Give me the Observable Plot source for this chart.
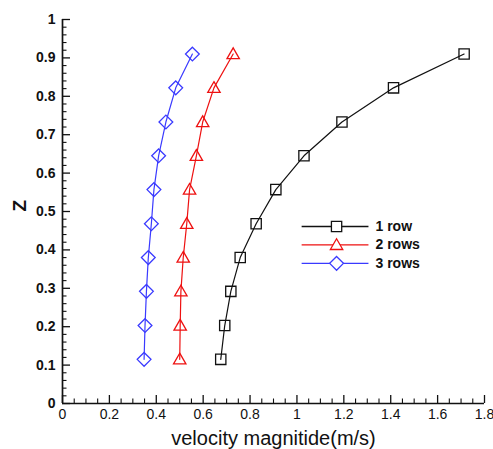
<!DOCTYPE html>
<html><head><meta charset="utf-8">
<script src="https://cdn.jsdelivr.net/npm/d3@7"></script>
<script src="https://cdn.jsdelivr.net/npm/@observablehq/plot@0.6"></script>
<style>html,body{margin:0;padding:0;background:#fff} svg{display:block}</style>
</head><body><div id="chart"></div>
<script>
// ---- data ----
const zLevels = [0.115, 0.203, 0.292, 0.38, 0.468, 0.557, 0.645, 0.733, 0.822, 0.91];
const row1 = [0.675, 0.692, 0.718, 0.758, 0.826, 0.91, 1.03, 1.192, 1.412, 1.713];
const row2 = [0.50, 0.502, 0.505, 0.515, 0.53, 0.542, 0.571, 0.598, 0.646, 0.728];
const row3 = [0.348, 0.352, 0.358, 0.366, 0.379, 0.39, 0.41, 0.441, 0.483, 0.554];
const seriesNames = ["1 row", "2 rows", "3 rows"];
const xTicks = [0, 0.2, 0.4, 0.6, 0.8, 1, 1.2, 1.4, 1.6, 1.8];
const yTicks = [0, 0.1, 0.2, 0.3, 0.4, 0.5, 0.6, 0.7, 0.8, 0.9, 1];
const xMinor = d3.range(0, 37).map(i => i * 0.05).filter((d, i) => i % 4 !== 0);
const yMinor = d3.range(0, 51).map(i => i * 0.02).filter((d, i) => i % 5 !== 0);

// ---- styles ----
const styles = [
  {stroke: "#111", symbol: "square", r: 5.8, dy: 0},
  {stroke: "#ee1111", symbol: "triangle", r: 4.6, dy: 1},
  {stroke: "#3a3aff", symbol: "diamond2", r: 6.2, dy: 0}
];
const seriesVals = [row1, row2, row3];
const series = seriesNames.map((name, k) => ({
  name, style: styles[k],
  points: seriesVals[k].map((v, i) => ({v, z: zLevels[i]}))
}));

// ---- layout ----
const W = 493, H = 449, mL = 62, mR = 9, mT = 19, mB = 46;
const iw = W - mL - mR, ih = H - mT - mB;
// legend placement (in data units of the plot frame)
const legendPos = {x1: 1.02, x2: 1.305, xm: 1.169, xt: 1.335, y: [0.461, 0.413, 0.365]};
const legend = series.map((s, k) => ({name: s.name, style: s.style, y: legendPos.y[k]}));

const fmt = d => String(+d.toFixed(2));
const axisColor = "#111";

const marks = [
  // tick marks (inward)
  Plot.ruleX(xTicks, {stroke: axisColor, strokeWidth: 1.3, insetTop: ih - 8}),
  Plot.ruleX(xMinor, {stroke: axisColor, strokeWidth: 1.1, insetTop: ih - 4.5}),
  Plot.ruleY(yTicks, {stroke: axisColor, strokeWidth: 1.3, insetRight: iw - 8}),
  Plot.ruleY(yMinor, {stroke: axisColor, strokeWidth: 1.1, insetRight: iw - 4.5}),
  // axis lines
  Plot.ruleY([0], {stroke: axisColor, strokeWidth: 1.7}),
  Plot.ruleX([0], {stroke: axisColor, strokeWidth: 1.7}),
  // tick labels
  Plot.axisX(xTicks, {tickSize: 0, tickPadding: 6, tickFormat: fmt, fontSize: 14, fill: "#111", label: null}),
  Plot.axisY(yTicks, {tickSize: 0, tickPadding: 7, tickFormat: fmt, fontSize: 14, fontWeight: "bold", fill: "#111", label: null}),
  // axis titles
  Plot.text(["velocity magnitide(m/s)"], {frameAnchor: "bottom", dy: 35, fontSize: 20, fill: "#111", lineAnchor: "middle"}),
  Plot.text(["Z"], {frameAnchor: "left", dx: -43, rotate: -90, fontSize: 19, fontWeight: "bold", fill: "#111", lineAnchor: "middle"})
];

for (const s of series) {
  const st = s.style;
  marks.push(Plot.line(s.points, {x: "v", y: "z", stroke: st.stroke, strokeWidth: 1.2}));
  marks.push(Plot.dot(s.points, {x: "v", y: "z", symbol: st.symbol, r: st.r, dy: st.dy, stroke: st.stroke, fill: "none", strokeWidth: 1.3}));
}
for (const l of legend) {
  const st = l.style;
  marks.push(Plot.link([l], {x1: () => legendPos.x1, x2: () => legendPos.x2, y1: "y", y2: "y", stroke: st.stroke, strokeWidth: 1.3}));
  marks.push(Plot.dot([l], {x: () => legendPos.xm, y: "y", symbol: st.symbol, r: st.r, dy: st.dy, stroke: st.stroke, fill: "white", strokeWidth: 1.3}));
  marks.push(Plot.text([l], {x: () => legendPos.xt, y: "y", text: "name", textAnchor: "start", fontSize: 14, fontWeight: "bold", fill: "#111"}));
}

const chart = Plot.plot({
  width: W, height: H,
  marginLeft: mL, marginRight: mR, marginTop: mT, marginBottom: mB,
  x: {domain: [0, 1.8], axis: null},
  y: {domain: [0, 1], axis: null},
  style: {fontFamily: "'Liberation Sans', Arial, sans-serif", background: "#fff", overflow: "visible"},
  marks
});
document.getElementById("chart").appendChild(chart);
</script>
</body></html>
